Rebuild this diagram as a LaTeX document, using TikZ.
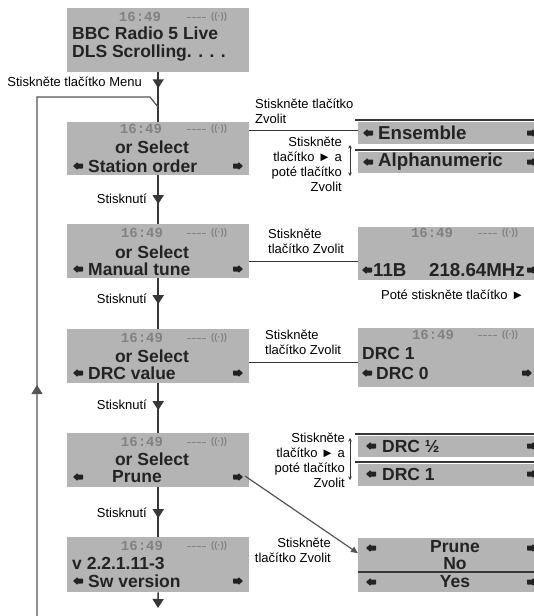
\documentclass[tikz,border=0pt]{standalone}
\usepackage{fontspec}
\setmainfont{Liberation Sans}
\newfontfamily\lcdmono{Liberation Mono}
\usetikzlibrary{arrows.meta,decorations.markings,calc}
\definecolor{lcd}{RGB}{180,180,180}
\definecolor{lcdtext}{RGB}{35,35,35}
\definecolor{lcdtime}{RGB}{130,130,130}
\definecolor{wire}{RGB}{55,55,55}
\definecolor{loopc}{RGB}{85,85,85}
\begin{document}
\begin{tikzpicture}[x=1pt,y=-1pt,
  lcdbox/.style={fill=lcd, draw=none, inner sep=0, anchor=north west},
  lcdtxt/.style={font=\fontsize{17.5}{19}\selectfont\bfseries, text=lcdtext, inner sep=0},
  lcdbig/.style={font=\fontsize{18.7}{20}\selectfont\bfseries, text=lcdtext, inner sep=0},
  timetxt/.style={font=\fontsize{14}{15}\selectfont\lcdmono\bfseries, text=lcdtime, inner sep=0},
  sigtxt/.style={font=\fontsize{9.5}{9.5}\selectfont\bfseries, text=lcdtime, inner sep=0},
  lbl/.style={font=\fontsize{13}{15}\selectfont, inner sep=0},
  mainline/.style={draw=wire, line width=1.5pt},
  loopline/.style={draw=loopc, line width=1.2pt},
  thinline/.style={draw=wire, line width=1pt},
  sepline/.style={draw=wire, line width=1.4pt},
  midtri/.style={postaction={decorate,decoration={markings,mark=at position #1 with {\arrow{Triangle[width=11pt,length=9pt]}}}}},
  dbl/.style={draw=wire, line width=0.7pt, {Stealth[length=3.5pt,width=3.5pt]}-{Stealth[length=3.5pt,width=3.5pt]}},
  larrow/.pic={\fill[lcdtext, rounded corners=0.6pt] (0,0) -- (4.5,-4) -- (4.5,-2.5) -- (10,-2.5) -- (10,2.5) -- (4.5,2.5) -- (4.5,4) -- cycle;},
  rarrow/.pic={\fill[lcdtext, rounded corners=0.6pt] (0,0) -- (-4.5,-4) -- (-4.5,-2.5) -- (-10,-2.5) -- (-10,2.5) -- (-4.5,2.5) -- (-4.5,4) -- cycle;},
  sig/.pic={\draw[lcdtime, dash pattern=on 3.5pt off 1.5pt, line width=0.8pt] (0,0) -- (20,0);
            \node[sigtxt, anchor=west] at (24,0) {((·))};}
]
\useasboundingbox[fill=white] (0,0) rectangle (534,616);

% ---------- left column boxes ----------
\node[lcdbox, minimum width=182pt, minimum height=64pt] (b1) at (67,8) {};
\node[lcdbox, minimum width=182pt, minimum height=53pt] (b2) at (67,122) {};
\node[lcdbox, minimum width=182pt, minimum height=54pt] (b3) at (67,224) {};
\node[lcdbox, minimum width=182pt, minimum height=54pt] (b4) at (67,329) {};
\node[lcdbox, minimum width=182pt, minimum height=54pt] (b5) at (67,433) {};
\node[lcdbox, minimum width=182pt, minimum height=55pt] (b6) at (67,537) {};

% box 1
\node[timetxt] at (140,17) {16:49};
\pic at (187,17) {sig};
\node[lcdtxt, anchor=west] at (72,33) {BBC Radio 5 Live};
\node[lcdtxt, anchor=west] at (72,53) {DLS Scrolling. . . .};
% box 2
\node[timetxt] at (141,129) {16:49};
\pic at (187,129) {sig};
\node[lcdtxt] at (152,147) {or Select};
\pic at (73,166) {larrow};
\node[lcdtxt, anchor=west] at (88,166) {Station order};
\pic at (243,166) {rarrow};
% box 3
\node[timetxt] at (142,233) {16:49};
\pic at (187,233) {sig};
\node[lcdtxt] at (152,252) {or Select};
\pic at (73,269) {larrow};
\node[lcdtxt, anchor=west] at (88,269) {Manual tune};
\pic at (243,269) {rarrow};
% box 4
\node[timetxt] at (142,338) {16:49};
\pic at (187,338) {sig};
\node[lcdtxt] at (152,356) {or Select};
\pic at (73,373) {larrow};
\node[lcdtxt, anchor=west] at (88,373) {DRC value};
\pic at (243,373) {rarrow};
% box 5
\node[timetxt] at (142,442) {16:49};
\pic at (187,442) {sig};
\node[lcdtxt] at (152,459) {or Select};
\pic at (73,477) {larrow};
\node[lcdtxt, anchor=west] at (112,477) {Prune};
\pic at (243,477) {rarrow};
% box 6
\node[timetxt] at (142,546) {16:49};
\pic at (187,546) {sig};
\node[lcdtxt, anchor=west] at (72,563) {v 2.2.1.11-3};
\pic at (73,581) {larrow};
\node[lcdtxt, anchor=west] at (88,581) {Sw version};
\pic at (243,581) {rarrow};

% ---------- right column boxes ----------
\node[lcdbox, minimum width=176pt, minimum height=22pt] (ens) at (358,122) {};
\node[lcdbox, minimum width=176pt, minimum height=21pt] (alph) at (358,152) {};
\node[lcdbox, minimum width=176pt, minimum height=53pt] (man) at (358,227) {};
\node[lcdbox, minimum width=176pt, minimum height=59pt] (drc) at (358,328) {};
\node[lcdbox, minimum width=176pt, minimum height=21pt] (drch) at (358,436) {};
\node[lcdbox, minimum width=176pt, minimum height=22pt] (drco) at (358,464) {};
\node[lcdbox, minimum width=176pt, minimum height=54pt] (prn) at (358,538) {};

\draw[sepline] (355,120) -- (534,120);
\draw[sepline] (355,150) -- (534,150);
\draw[sepline] (355,434) -- (534,434);
\draw[sepline] (355,462) -- (534,462);
\draw[sepline] (358,572) -- (534,572);

% ensemble / alphanumeric
\pic at (363,133) {larrow};
\node[lcdbig, anchor=west] at (378,133) {Ensemble};
\pic at (537,133) {rarrow};
\pic at (363,162) {larrow};
\node[lcdbig, anchor=west] at (378,162) {Alphanumeric};
\pic at (537,162) {rarrow};
% manual tune
\node[timetxt] at (432,233) {16:49};
\pic at (478,233) {sig};
\pic at (362,270) {larrow};
\node[lcdbig, anchor=west] at (373,270) {11B};
\node[lcdbig, anchor=east] at (525,270) {218.64MHz};
\pic at (537,270) {rarrow};
% drc
\node[timetxt] at (433,335) {16:49};
\pic at (478,335) {sig};
\node[lcdtxt, anchor=west] at (362,353) {DRC 1};
\pic at (362,373) {larrow};
\node[lcdtxt, anchor=west] at (376,373) {DRC 0};
\pic at (532,373) {rarrow};
% drc half / drc 1
\pic at (366,446) {larrow};
\node[lcdtxt, anchor=west] at (382,446) {DRC ½};
\pic at (537,446) {rarrow};
\pic at (366,474) {larrow};
\node[lcdtxt, anchor=west] at (382,474) {DRC 1};
\pic at (537,474) {rarrow};
% prune / no / yes
\pic at (366,548) {larrow};
\pic at (537,548) {rarrow};
\node[lcdtxt] at (455,547) {Prune};
\node[lcdtxt] at (455,564) {No};
\pic at (366,582) {larrow};
\pic at (537,582) {rarrow};
\node[lcdtxt] at (455,582) {Yes};

% ---------- main flow ----------
\coordinate (j) at (158,107);
\coordinate (c1) at (150,97);
\coordinate (c2) at (37,97);
\coordinate (c3) at (37,616);
\coordinate (bend) at (158,608);
\draw[mainline, midtri=0.32] (b1.south) -- (b2.north);
\draw[mainline, midtri=0.59] (b2.south) -- (b3.north);
\draw[mainline, midtri=0.51] (b3.south) -- (b4.north);
\draw[mainline, midtri=0.54] (b4.south) -- (b5.north);
\draw[mainline, midtri=0.62] (b5.south) -- (b6.north);
\draw[mainline, -{Triangle[width=11pt,length=9pt]}] (b6.south) -- (bend);
\draw[loopline, midtri=231pt] (c3) -- (c2) -- (c1) -- (j);

\node[lbl, anchor=east] at (142,82) {Stiskněte tlačítko Menu};
\node[lbl, anchor=east] at (147,199) {Stisknutí};
\node[lbl, anchor=east] at (147,299) {Stisknutí};
\node[lbl, anchor=east] at (147,405) {Stisknutí};
\node[lbl, anchor=east] at (147,513) {Stisknutí};

% ---------- side connectors ----------
\draw[thinline] ([yshift=3pt]ens.west) -- ([yshift=3pt]ens.west -| b2.east);
\draw[thinline] ([yshift=-7.5pt]man.west) -- ([yshift=-7.5pt]man.west -| b3.east);
\draw[thinline] ([yshift=-4.5pt]drc.west) -- ([yshift=-4.5pt]drc.west -| b4.east);
\coordinate (b5r) at (245,476);
\draw[draw=loopc, line width=1.2pt, -{Triangle[width=6pt,length=7pt]}] (b5r) -- ([yshift=12pt]prn.west);

\coordinate (d1a) at (350,145);
\coordinate (d1b) at (350,176);
\coordinate (d2a) at (350,438);
\coordinate (d2b) at (350,480);
\draw[dbl] (d1a) -- (d1b);
\draw[dbl] (d2a) -- (d2b);

\node[lbl, anchor=west, align=left] at (255,111) {Stiskněte tlačítko\\Zvolit};
\node[lbl, anchor=east, align=right] at (342,164.5) {Stiskněte\\tlačítko ► a\\poté tlačítko\\Zvolit};
\node[lbl, anchor=west, align=left] at (268,241) {Stiskněte\\tlačítko Zvolit};
\node[lbl, anchor=west] at (381,295) {Poté stiskněte tlačítko ►};
\node[lbl, anchor=west, align=left] at (265,342.5) {Stiskněte\\tlačítko Zvolit};
\node[lbl, anchor=east, align=right] at (345,460) {Stiskněte\\tlačítko ► a\\poté tlačítko\\Zvolit};
\node[lbl, anchor=east, align=right] at (331,550.5) {Stiskněte\\tlačítko Zvolit};
\end{tikzpicture}
\end{document}
